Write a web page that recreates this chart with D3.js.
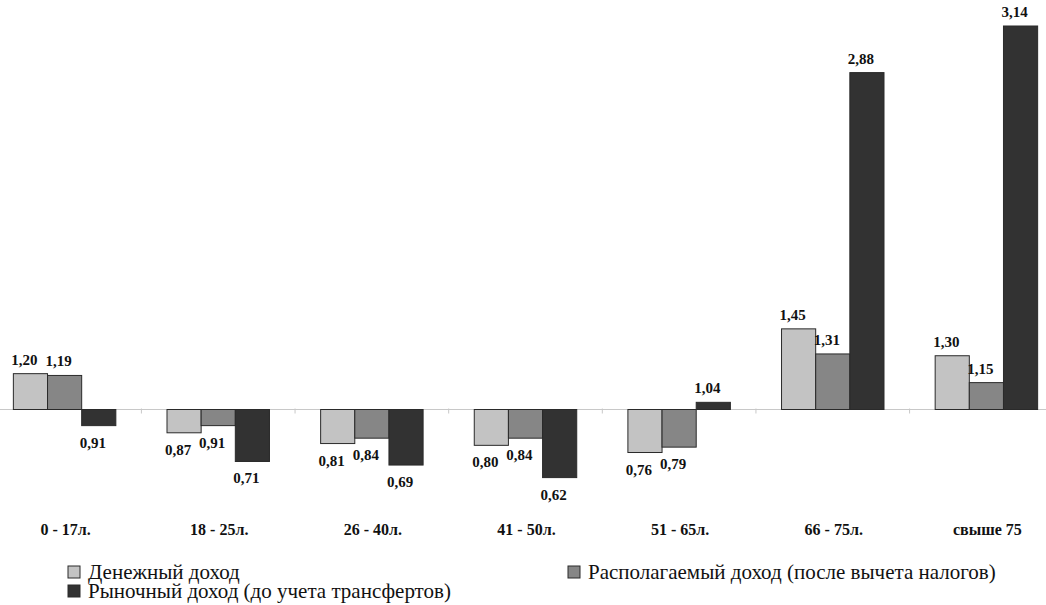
<!DOCTYPE html>
<html>
<head>
<meta charset="utf-8">
<script src="https://cdn.jsdelivr.net/npm/d3@7/dist/d3.min.js"></script>
<style>
  body { margin: 0; background: #fff; }
  svg { display: block; }
  svg text { font-family: "Liberation Serif", "Times New Roman", Times, serif; fill: #111; }
</style>
</head>
<body>
<div id="chart"></div>
<script>
// data
const categories = ["0 - 17л.", "18 - 25л.", "26 - 40л.", "41 - 50л.", "51 - 65л.", "66 - 75л.", "свыше 75"];
const seriesNames = ["Денежный доход", "Располагаемый доход (после вычета налогов)", "Рыночный доход (до учета трансфертов)"];
const money = [1.20, 0.87, 0.81, 0.80, 0.76, 1.45, 1.30];
const disposable = [1.19, 0.91, 0.84, 0.84, 0.79, 1.31, 1.15];
const market = [0.91, 0.71, 0.69, 0.62, 1.04, 2.88, 3.14];
const baseValue = 1;

const colors = ["#c3c3c3", "#868686", "#323232"];
const W = 1046, H = 605;

const series = [money, disposable, market];
const rows = categories.map((c, i) => ({
  cat: c,
  vals: series.map((s, k) => ({ key: k, value: s[i] }))
}));

const svg = d3.select("#chart").append("svg")
  .attr("width", W)
  .attr("height", H);

// scales
const x0 = d3.scaleBand()
  .domain(categories)
  .range([0, 1051])
  .paddingInner(0.333)
  .paddingOuter(0.087);

const x1 = d3.scaleBand()
  .domain(d3.range(series.length))
  .range([0, x0.bandwidth()]);

const y = d3.scaleLinear()
  .domain([baseValue, d3.max(market)])
  .range([409.5, 26]);

// base line with small ticks between groups
svg.append("line")
  .attr("x1", 0).attr("x2", W)
  .attr("y1", y(baseValue)).attr("y2", y(baseValue))
  .style("stroke", "#c8c8c8")
  .style("stroke-width", 1);

const gap = x0.step() - x0.bandwidth();
svg.selectAll("line.sep")
  .data(categories.slice(0, -1))
  .enter().append("line")
  .attr("class", "sep")
  .attr("x1", d => x0(d) + x0.bandwidth() + gap / 2)
  .attr("x2", d => x0(d) + x0.bandwidth() + gap / 2)
  .attr("y1", y(baseValue) - 1)
  .attr("y2", y(baseValue) + 4)
  .style("stroke", "#c8c8c8");

// bars
const groups = svg.selectAll(".grp")
  .data(rows)
  .enter().append("g")
  .attr("class", "grp")
  .attr("transform", d => "translate(" + x0(d.cat) + ",0)");

groups.selectAll("rect")
  .data(d => d.vals)
  .enter().append("rect")
  .attr("x", d => x1(d.key))
  .attr("width", x1.bandwidth())
  .attr("y", d => Math.min(y(d.value), y(baseValue)))
  .attr("height", d => Math.abs(y(d.value) - y(baseValue)))
  .style("fill", d => colors[d.key])
  .style("stroke", "#2a2a2a")
  .style("stroke-width", 1);

// value labels
const fmt = v => v.toFixed(2).replace(".", ",");
groups.selectAll("text.val")
  .data(d => d.vals)
  .enter().append("text")
  .attr("class", "val")
  .attr("x", d => x1(d.key) + x1.bandwidth() / 2 - 6)
  .attr("y", d => d.value >= baseValue ? y(d.value) - 9 : y(d.value) + 22)
  .style("text-anchor", "middle")
  .style("font-size", "15px")
  .style("font-weight", "bold")
  .text(d => fmt(d.value));

// category labels
svg.selectAll("text.cat")
  .data(categories)
  .enter().append("text")
  .attr("class", "cat")
  .attr("x", d => x0(d) + x0.bandwidth() / 2 + 1)
  .attr("y", 535)
  .style("text-anchor", "middle")
  .style("font-size", "16px")
  .style("font-weight", "bold")
  .text(d => d);

// legend
const legendPos = [[68, 566], [568, 566], [68, 585]];
const leg = svg.selectAll(".leg")
  .data(seriesNames)
  .enter().append("g")
  .attr("class", "leg")
  .attr("transform", (d, i) => "translate(" + legendPos[i][0] + "," + legendPos[i][1] + ")");

leg.append("rect")
  .attr("width", 12).attr("height", 12)
  .style("fill", (d, i) => colors[i])
  .style("stroke", "#2a2a2a")
  .style("stroke-width", 1);

leg.append("text")
  .attr("x", 20)
  .attr("y", 13)
  .style("font-size", "21px")
  .text(d => d);
</script>
</body>
</html>
